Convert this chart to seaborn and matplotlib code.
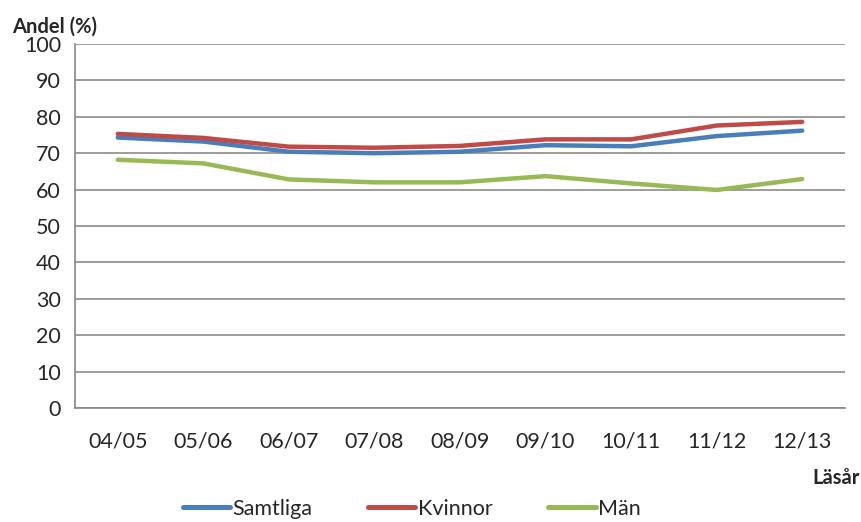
import matplotlib
matplotlib.use("Agg")
import matplotlib.pyplot as plt
import seaborn as sns
import pandas as pd
import numpy as np
from matplotlib.lines import Line2D

categories = ["04/05", "05/06", "06/07", "07/08", "08/09", "09/10", "10/11", "11/12", "12/13"]
samtliga = [74.3, 73.2, 70.4, 70.0, 70.4, 72.2, 71.9, 74.7, 76.2]
kvinnor = [75.3, 74.2, 71.8, 71.5, 72.0, 73.8, 73.8, 77.6, 78.6]
man = [68.2, 67.2, 62.8, 62.0, 62.0, 63.7, 61.7, 59.9, 62.9]
series_names = ["Samtliga", "Kvinnor", "Män"]
colors = ["#4A7EBB", "#BE4B48", "#98B954"]

rows = []
for name, vals in zip(series_names, [samtliga, kvinnor, man]):
    for i, (c, v) in enumerate(zip(categories, vals)):
        rows.append({"pos": i, "Läsår": c, "Andel": v, "Serie": name})
df = pd.DataFrame(rows)

sns.set_style("white")
plt.rcParams["font.family"] = ["Lato", "DejaVu Sans"]

fig = plt.figure(figsize=(8.61, 5.22), dpi=100)
ax = fig.add_axes([75/861, 1-408/522, (845-75)/861, (408-44)/522])

sns.lineplot(data=df, x="pos", y="Andel", hue="Serie", palette=colors,
             hue_order=series_names, linewidth=3.2, ax=ax, legend=False,
             solid_capstyle="round")

ax.set_xlim(-0.5, len(categories) - 0.5)
ax.set_ylim(0, 100)
ax.set_yticks(np.arange(0, 101, 10))
ax.set_yticklabels([str(v) for v in range(0, 101, 10)], fontsize=15.5)
ax.set_xticks(np.arange(-0.5, len(categories), 1.0))
ax.set_xticklabels([])
ax.set_xticks(np.arange(len(categories)), minor=True)
ax.set_xticklabels(categories, minor=True, fontsize=15.5)
ax.tick_params(axis="x", which="major", direction="out", length=6, color="#868686", width=1)
ax.tick_params(axis="x", which="minor", length=0, pad=17)
ax.tick_params(axis="y", direction="out", length=6, color="#868686", width=1, pad=4)
ax.grid(axis="y", color="#8C8C8C", linewidth=1.2)
ax.set_axisbelow(True)
for s in ["top", "right"]:
    ax.spines[s].set_visible(False)
for s in ["left", "bottom"]:
    ax.spines[s].set_color("#868686")
    ax.spines[s].set_linewidth(1.2)
ax.set_xlabel("")
ax.set_ylabel("")

fig.text(12/861, 1-27/522, "Andel (%)", fontsize=14.5, fontweight="bold", ha="left", va="center")
fig.text(860/861, 1-478/522, "Läsår", fontsize=14.5, fontweight="bold", ha="right", va="center")

handles = [Line2D([0], [0], color=c, linewidth=3.6, solid_capstyle="round") for c in colors]
fig.legend(handles, series_names, loc="center", bbox_to_anchor=(0.478, 1-509/522), ncol=3,
           frameon=False, fontsize=15.5, handlelength=2.2, handletextpad=0.1, columnspacing=2.6)

fig.savefig("out.png", dpi=100)
